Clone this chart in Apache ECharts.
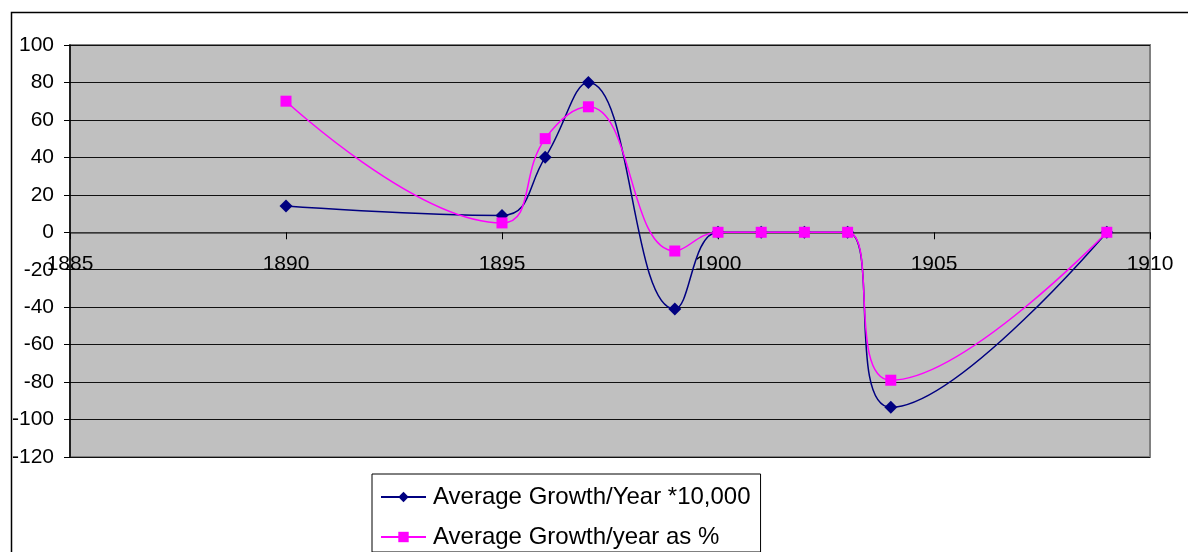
<!DOCTYPE html>
<html>
<head>
<meta charset="utf-8">
<script src="https://cdn.jsdelivr.net/npm/echarts@6/dist/echarts.min.js"></script>
<style>
  html, body { margin: 0; padding: 0; background: #fff; }
  #chart { width: 1188px; height: 552px; }
</style>
</head>
<body>
<div id="chart"></div>
<script>
// Years of observation
const years = [1890, 1895, 1896, 1897, 1899, 1900, 1901, 1902, 1903, 1904, 1909];
// Average growth per year, scaled by 10,000
const growthScaled = [14, 9, 40, 80, -41, 0, 0, 0, 0, -93.5, 0];
// Average growth per year, in percent
const growthPercent = [70, 5, 50, 67, -10, 0, 0, 0, 0, -79, 0];

const seriesNames = ['Average Growth/Year *10,000', 'Average Growth/year as %'];

const FONT = '"Liberation Sans", Arial, sans-serif';

// plot area geometry (px) and value range of the y axis
const GRID = { left: 70, right: 38, top: 45, bottom: 95 };
const Y_MIN = -120, Y_MAX = 100;

function pairs(xs, ys) {
  return xs.map((x, i) => [x, ys[i]]);
}

const chart = echarts.init(document.getElementById('chart'));

// distance from the bottom edge of the plot up to the zero line
const plotHeight = 552 - GRID.top - GRID.bottom;
const zeroOffset = plotHeight * (0 - Y_MIN) / (Y_MAX - Y_MIN);

chart.setOption({
  animation: false,
  backgroundColor: '#ffffff',
  textStyle: { fontFamily: FONT, color: '#000' },
  graphic: [{
    type: 'rect',
    left: 9, top: 10,
    shape: { x: 0, y: 0, width: 1300, height: 700 },
    style: { fill: 'none', stroke: '#000', lineWidth: 1.5 },
    silent: true, z: -1
  }],
  grid: Object.assign({
    show: true,
    backgroundColor: '#c0c0c0',
    borderColor: '#808080',
    borderWidth: 2
  }, GRID),
  xAxis: {
    type: 'value',
    position: 'bottom',
    offset: -zeroOffset,
    min: 1885, max: 1910, interval: 5,
    axisLine: { show: true, onZero: false, lineStyle: { color: '#444', width: 1.5 } },
    axisTick: { show: true, length: 7, lineStyle: { color: '#000' } },
    axisLabel: {
      margin: 21, fontSize: 21, color: '#000', fontFamily: FONT,
      formatter: v => String(v)
    },
    splitLine: { show: false }
  },
  yAxis: {
    type: 'value',
    min: Y_MIN, max: Y_MAX, interval: 20,
    axisLine: { show: true, onZero: false, lineStyle: { color: '#000', width: 1.5 } },
    axisTick: { show: true, length: 6, lineStyle: { color: '#000' } },
    axisLabel: { margin: 16, fontSize: 21, color: '#000', fontFamily: FONT },
    splitLine: { show: true, lineStyle: { color: '#111', width: 1 } }
  },
  legend: {
    orient: 'vertical',
    left: 372, top: 474,
    height: 300,
    padding: [10, 10, 2, 8],
    itemGap: 14,
    itemWidth: 45,
    itemHeight: 13,
    backgroundColor: '#fff',
    borderColor: '#000',
    borderWidth: 1,
    textStyle: { fontSize: 24, lineHeight: 26, color: '#000', fontFamily: FONT, padding: [0, 0, 0, 2] },
    data: [seriesNames[0], seriesNames[1]]
  },
  series: [
    {
      name: seriesNames[0],
      type: 'line',
      data: pairs(years, growthScaled),
      smooth: 0.45,
      symbol: 'diamond',
      symbolSize: 13,
      itemStyle: { color: '#000080' },
      lineStyle: { color: '#000080', width: 1.5 },
      z: 3
    },
    {
      name: seriesNames[1],
      type: 'line',
      data: pairs(years, growthPercent),
      smooth: 0.45,
      symbol: 'rect',
      symbolSize: 11,
      itemStyle: { color: '#ff00ff' },
      lineStyle: { color: '#ff00ff', width: 1.5 },
      z: 4
    }
  ]
});
</script>
</body>
</html>
